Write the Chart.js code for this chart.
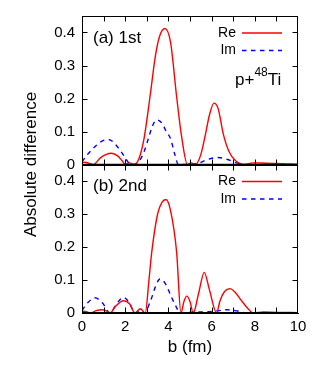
<!DOCTYPE html>
<html>
<head>
<meta charset="utf-8">
<script src="https://cdn.jsdelivr.net/npm/chart.js@4.4.1/dist/chart.umd.min.js"></script>
<style>
  html, body { margin: 0; padding: 0; background: #fff; }
  #wrap { position: relative; width: 315px; height: 368px; }
</style>
</head>
<body>
<div id="wrap"><canvas id="c" width="315" height="368"></canvas></div>
<script>
// ---- data ----
const xTicks = [0, 2, 4, 6, 8, 10];
const yTicks = [0, 0.1, 0.2, 0.3, 0.4];

// panel (a) 1st
const reA_b = [0, 0.15, 0.3, 0.52, 0.85, 1.1, 1.37, 1.65, 1.85, 2.0, 2.2, 2.4, 2.6, 2.87, 3.15, 3.4, 3.6, 3.84, 4.1, 4.38, 4.6, 4.88, 5.05, 5.25, 5.5, 5.72, 5.9, 6.11, 6.3, 6.54, 6.8, 7.1, 7.55, 7.9, 8.5, 9.0, 10];
const reA_v = [0.006, 0.007, 0.004, 0, 0.02, 0.03, 0.034, 0.026, 0.012, 0, 0.005, 0, 0.012, 0.078, 0.206, 0.33, 0.39, 0.412, 0.37, 0.206, 0.09, 0, 0.005, 0, 0.03, 0.093, 0.15, 0.186, 0.17, 0.093, 0.04, 0.012, 0, 0.005, 0.004, 0.003, 0.001];
const imA_b = [0, 0.25, 0.52, 0.85, 1.22, 1.7, 1.95, 2.15, 2.35, 2.6, 2.85, 3.07, 3.25, 3.46, 3.7, 3.9, 4.1, 4.3, 4.46, 5.0, 5.4, 5.8, 6.3, 6.7, 7.2, 7.6, 10];
const imA_v = [0.008, 0.03, 0.049, 0.068, 0.076, 0.049, 0.025, 0.006, 0, 0.006, 0.035, 0.078, 0.115, 0.135, 0.125, 0.1, 0.078, 0.03, 0, 0.001, 0.004, 0.015, 0.021, 0.016, 0.004, 0, 0];

// panel (b) 2nd
const reB_b = [0, 0.2, 0.4, 0.65, 0.93, 1.15, 1.3, 1.55, 1.92, 2.2, 2.45, 2.7, 2.93, 3.1, 3.23, 3.5, 3.7, 3.89, 4.1, 4.38, 4.58, 4.72, 4.85, 5.0, 5.15, 5.4, 5.66, 5.9, 6.23, 6.39, 6.6, 6.85, 7.1, 7.39, 7.7, 7.93, 8.4, 9.0, 10];
const reB_v = [0.006, 0.004, 0, 0.007, 0.01, 0.006, 0, 0.02, 0.037, 0.028, 0, 0.013, 0, 0.1, 0.185, 0.3, 0.335, 0.344, 0.31, 0.185, 0, 0.035, 0.051, 0.035, 0, 0.06, 0.123, 0.07, 0, 0.037, 0.065, 0.074, 0.062, 0.037, 0.012, 0, 0.003, 0.002, 0.001];
const imB_b = [0, 0.25, 0.6, 0.95, 1.3, 1.6, 1.92, 2.2, 2.45, 2.7, 2.93, 3.1, 3.23, 3.4, 3.61, 3.85, 4.15, 4.35, 4.55, 5.2, 5.8, 6.3, 6.7, 7.2, 7.6, 10];
const imB_v = [0.008, 0.03, 0.046, 0.03, 0, 0.028, 0.047, 0.03, 0, 0.008, 0, 0.025, 0.047, 0.08, 0.103, 0.09, 0.047, 0.02, 0, 0.003, 0.004, 0.007, 0.01, 0.006, 0, 0];

const seriesNames = ['Re', 'Im'];
const panelLabels = ['(a) 1st', '(b) 2nd'];

const pts = (bs, vs) => bs.map((b, i) => ({ x: b, y: vs[i] }));
const RED = '#ff0000', BLUE = '#0000ff';
const FONT = "'Liberation Sans', Arial, Helvetica, sans-serif";

function ds(label, data, color, dashed, axis) {
  return {
    label, data, yAxisID: axis,
    borderColor: color, backgroundColor: color,
    borderWidth: 1.4, borderDash: dashed ? [4.5, 4.5] : [],
    pointRadius: 0, fill: false, cubicInterpolationMode: 'monotone'
  };
}

function yScale() {
  return {
    type: 'linear', position: 'left', stack: 'panels', stackWeight: 1,
    min: 0, max: 0.45,
    afterBuildTicks: s => { s.ticks = yTicks.map(v => ({ value: v })); },
    afterFit: s => { s.width = 82; },
    ticks: {
      color: '#000', font: { family: FONT, size: 15 }, padding: 7,
      callback: v => (v === 0 ? '0' : v.toFixed(1))
    },
    grid: { display: true, drawOnChartArea: false, drawTicks: false, color: '#000' },
    border: { display: true, color: '#000', width: 1 }
  };
}

const framePlugin = {
  id: 'frame',
  afterDraw(chart) {
    const ctx = chart.ctx, ca = chart.chartArea, xs = chart.scales.x;
    const panels = [chart.scales.yTop, chart.scales.yBot];
    ctx.save();
    ctx.strokeStyle = '#000';
    ctx.lineWidth = 1;
    const L = Math.round(ca.left) + 0.5, R = Math.round(ca.right) - 0.5;
    panels.forEach((ys, pi) => {
      const T = Math.round(ys.top) + 0.5, B = Math.round(ys.bottom) - 0.5;
      ctx.strokeRect(L, T, R - L, B - T);
      ctx.beginPath();
      for (let v = 1; v < 10; v++) {
        const px = Math.round(xs.getPixelForValue(v)) + 0.5;
        ctx.moveTo(px, B); ctx.lineTo(px, B - 5);
        ctx.moveTo(px, T); ctx.lineTo(px, T + 5);
      }
      yTicks.forEach(v => {
        const py = Math.round(ys.getPixelForValue(v)) + 0.5;
        ctx.moveTo(L, py); ctx.lineTo(L + 5, py);
        ctx.moveTo(R, py); ctx.lineTo(R - 5, py);
      });
      ctx.stroke();

      // panel label
      ctx.fillStyle = '#000';
      ctx.textBaseline = 'middle';
      ctx.textAlign = 'left';
      ctx.font = `17px ${FONT}`;
      ctx.fillText(panelLabels[pi], 93, ys.top + 22);

      // legend
      const dsets = chart.data.datasets.filter(d => d.yAxisID === ys.id);
      dsets.forEach((d, k) => {
        const ly = ys.top + 17 + k * 17.5;
        ctx.font = `14px ${FONT}`;
        ctx.textAlign = 'right';
        ctx.fillStyle = '#000';
        ctx.fillText(d.label, 236, ly);
        ctx.beginPath();
        ctx.strokeStyle = d.borderColor;
        ctx.lineWidth = 1.4;
        ctx.setLineDash(d.borderDash);
        ctx.moveTo(242, ly); ctx.lineTo(282, ly);
        ctx.stroke();
        ctx.setLineDash([]);
        ctx.strokeStyle = '#000';
        ctx.lineWidth = 1;
      });
    });
    // separator emphasis
    ctx.beginPath();
    ctx.lineWidth = 1.5;
    const sep = chart.scales.yTop.bottom;
    ctx.moveTo(ca.left, sep); ctx.lineTo(ca.right, sep);
    ctx.stroke();

    // nucleus label p+48Ti
    const ys = chart.scales.yTop;
    ctx.fillStyle = '#000';
    ctx.textAlign = 'left';
    ctx.textBaseline = 'alphabetic';
    ctx.font = `17px ${FONT}`;
    let x0 = 235, base = ys.top + 69;
    ctx.fillText('p+', x0, base);
    x0 += ctx.measureText('p+').width;
    ctx.font = `12px ${FONT}`;
    ctx.fillText('48', x0, base - 9);
    x0 += ctx.measureText('48').width;
    ctx.font = `17px ${FONT}`;
    ctx.fillText('Ti', x0, base);

    // y title
    ctx.save();
    ctx.translate(31, (ca.top + ca.bottom) / 2);
    ctx.rotate(-Math.PI / 2);
    ctx.textAlign = 'center';
    ctx.textBaseline = 'middle';
    ctx.font = `17px ${FONT}`;
    ctx.fillText('Absolute difference', 0, 0);
    ctx.restore();
    ctx.restore();
  }
};

new Chart(document.getElementById('c'), {
  type: 'line',
  data: {
    datasets: [
      ds(seriesNames[0], pts(reA_b, reA_v), RED, false, 'yTop'),
      ds(seriesNames[1], pts(imA_b, imA_v), BLUE, true, 'yTop'),
      ds(seriesNames[0], pts(reB_b, reB_v), RED, false, 'yBot'),
      ds(seriesNames[1], pts(imB_b, imB_v), BLUE, true, 'yBot')
    ]
  },
  options: {
    responsive: false, animation: false, devicePixelRatio: 1,
    layout: { padding: { top: 7, right: 17, left: 0, bottom: 0 } },
    plugins: { legend: { display: false }, tooltip: { enabled: false } },
    scales: {
      x: {
        type: 'linear', position: 'bottom', min: 0, max: 10,
        afterBuildTicks: s => { s.ticks = xTicks.map(v => ({ value: v })); },
        afterFit: s => { s.height = 55; },
        ticks: { color: '#000', font: { family: FONT, size: 15 }, padding: 5, maxRotation: 0 },
        grid: { display: true, drawOnChartArea: false, drawTicks: false },
        border: { display: true, color: '#000', width: 1 },
        title: { display: true, text: 'b (fm)', color: '#000', font: { family: FONT, size: 17 }, padding: { top: 0, bottom: 10 } }
      },
      // stacked panels: the first one listed is placed at the bottom
      yBot: yScale(),
      yTop: yScale()
    }
  },
  plugins: [framePlugin]
});
</script>
</body>
</html>
